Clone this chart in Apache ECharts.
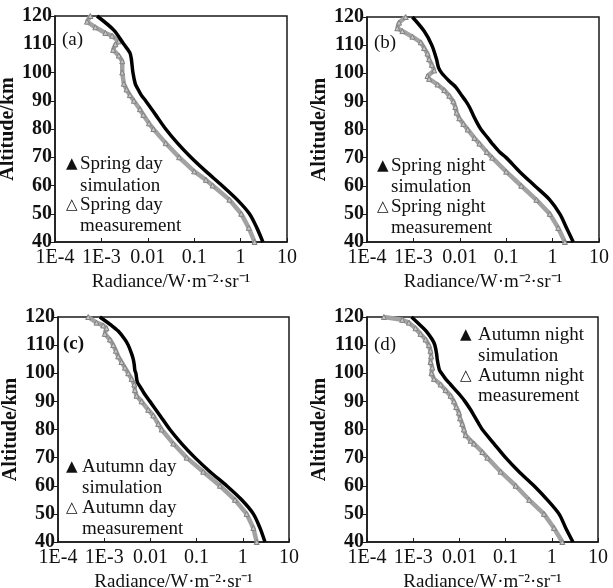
<!DOCTYPE html>
<html>
<head>
<meta charset="utf-8">
<script src="https://cdn.jsdelivr.net/npm/echarts@6/dist/echarts.min.js"></script>
<style>html,body{margin:0;padding:0;background:#fff}#c{width:613px;height:588px}</style>
</head>
<body>
<div id="c"></div>
<script>
// ---- tick labels ----
const xTickLabels = ['1E-4', '1E-3', '0.01', '0.1', '1', '10'];
const panelLetters = ['(a)', '(b)', '(c)', '(d)'];
const simNames = ['Spring day simulation', 'Spring night simulation', 'Autumn day simulation', 'Autumn night simulation'];
const measNames = ['Spring day measurement', 'Spring night measurement', 'Autumn day measurement', 'Autumn night measurement'];
const legendHead = ['Spring day', 'Spring night', 'Autumn day', 'Autumn night'];

// ---- (a) spring day ----
const altSimA = [120,115,110,107,105,100,96,95,92,90,85,80,75,70,65,60,55,50,45,40];
const radSimA = [8.05e-4,1.85e-3,3.05e-3,4.11e-3,4.40e-3,4.78e-3,5.36e-3,5.73e-3,7.23e-3,8.97e-3,0.0148,0.0243,0.0436,0.0847,0.179,0.397,0.840,1.55,2.24,3.02];
const altMeasA = [120,118,116,114,113,111,110,108,106,104,100,96,94,92,90,87,85,82,80,75,70,65,62,60,55,50,45,40];
const radMeasA = [5.78e-4,4.90e-4,7.41e-4,1.22e-3,1.70e-3,2.37e-3,2.01e-3,1.79e-3,2.37e-3,2.81e-3,2.81e-3,3.05e-3,3.48e-3,4.11e-3,5.01e-3,6.76e-3,8.0e-3,0.0106,0.0132,0.0243,0.0473,0.100,0.179,0.249,0.573,1.03,1.50,2.0];

// ---- (b) spring night ----
const altSimB = [120,115,110,105,102,100,97,95,92,90,88,86,85,82,80,77,75,72,70,65,60,55,50,45,40];
const radSimB = [9.5e-4,1.70e-3,2.49e-3,3.15e-3,3.48e-3,4.11e-3,6.12e-3,8.26e-3,0.0111,0.0136,0.0161,0.0184,0.0196,0.0243,0.0287,0.0401,0.0498,0.0718,0.100,0.195,0.411,0.869,1.43,2.0,2.78];
const altMeasB = [120,118,116,115,113,111,109,107,105,103,101,99,98,96,94,92,90,88,86,84,82,80,77,75,72,70,65,60,55,50,45,40];
const radMeasB = [6.82e-4,4.90e-4,4.50e-4,5.78e-4,9.5e-4,1.44e-3,1.70e-3,2.01e-3,2.18e-3,2.49e-3,2.81e-3,2.01e-3,2.18e-3,3.31e-3,4.61e-3,5.93e-3,7.23e-3,8.0e-3,8.53e-3,9.75e-3,0.0119,0.0148,0.0206,0.0264,0.0381,0.0498,0.100,0.211,0.447,0.869,1.32,1.84];

// ---- (c) autumn day ----
const altSimC = [120,117,115,112,110,107,105,103,101,100,97,95,93,90,85,80,75,70,65,60,55,50,45,40];
const radSimC = [8.05e-4,1.44e-3,2.01e-3,2.81e-3,3.31e-3,3.91e-3,4.25e-3,4.47e-3,4.61e-3,4.85e-3,5.19e-3,6.12e-3,7.23e-3,9.75e-3,0.0161,0.0264,0.0473,0.0920,0.195,0.447,0.944,1.69,2.35,3.02];
const altMeasC = [120,118,117,116,114,112,110,108,106,104,102,100,98,96,94,92,90,87,85,82,80,75,70,65,60,55,50,45,40];
const radMeasC = [4.50e-4,6.82e-4,9.5e-4,1.12e-3,1.03e-3,1.33e-3,1.57e-3,1.79e-3,2.01e-3,2.37e-3,2.81e-3,3.31e-3,3.91e-3,4.47e-3,4.61e-3,5.01e-3,6.44e-3,8.97e-3,0.0115,0.0148,0.0175,0.0313,0.0607,0.139,0.320,0.676,1.21,1.69,2.0];

// ---- (d) autumn night ----
const altSimD = [120,117,115,112,110,107,105,103,101,100,98,96,94,92,90,87,85,82,80,75,70,65,60,55,50,45,40];
const radSimD = [9.2e-4,1.44e-3,1.91e-3,2.58e-3,2.94e-3,3.20e-3,3.31e-3,3.48e-3,3.72e-3,4.11e-3,5.01e-3,6.44e-3,8.26e-3,0.0106,0.0132,0.0175,0.0206,0.0264,0.0313,0.0558,0.100,0.195,0.411,0.80,1.43,2.0,2.87];
const altMeasD = [120,119,118,116,114,112,110,108,106,104,102,100,98,96,94,92,90,88,86,84,82,80,78,76,75,72,70,65,60,55,50,45,40];
const radMeasD = [2.32e-4,5.78e-4,8.05e-4,1.12e-3,1.44e-3,1.85e-3,2.18e-3,2.37e-3,2.45e-3,2.37e-3,2.58e-3,2.49e-3,2.81e-3,3.91e-3,5.01e-3,6.44e-3,7.60e-3,8.53e-3,9.75e-3,0.0103,0.0115,0.0125,0.0136,0.0175,0.0206,0.0313,0.0401,0.0780,0.165,0.323,0.676,1.11,1.69];

const sims = [[radSimA, altSimA], [radSimB, altSimB], [radSimC, altSimC], [radSimD, altSimD]];
const meas = [[radMeasA, altMeasA], [radMeasB, altMeasB], [radMeasC, altMeasC], [radMeasD, altMeasD]];

// ---- layout (not data) ----
const grids = [
  {left: 55, top: 16, width: 232, height: 226},
  {left: 367, top: 17, width: 232, height: 225},
  {left: 58, top: 317, width: 231, height: 225},
  {left: 367, top: 317, width: 231, height: 225}
];
const letterPos = [[62, 40, 'normal'], [374, 43, 'normal'], [63, 344, 'bold'], [374, 345, 'normal']];
const legendPos = [
  {tx: 66, x: 80, ys: [164, 186, 205, 226]},
  {tx: 377, x: 391, ys: [166, 187, 207, 228]},
  {tx: 66, x: 82, ys: [467, 488, 508, 529]},
  {tx: 460, x: 478, ys: [335, 356, 376, 396]}
];

const FONT = '"Liberation Serif", "Times New Roman", serif';
const pair = (xs, ys) => xs.map((v, i) => [v, ys[i]]);

const option = {
  animation: false,
  backgroundColor: '#fff',
  grid: [], xAxis: [], yAxis: [], series: [], graphic: []
};

grids.forEach((g, i) => {
  option.grid.push(Object.assign({show: true, borderColor: '#1a1a1a', borderWidth: 1.5, backgroundColor: 'transparent', containLabel: false, outerBoundsMode: 'none'}, g));
  option.xAxis.push({
    gridIndex: i, type: 'log', logBase: 10, min: 1e-4, max: 10,
    name: 'Radiance/W·m⁻²·sr⁻¹', nameLocation: 'middle', nameGap: 31,
    nameTextStyle: {fontFamily: FONT, fontSize: 19, color: '#111'},
    axisLine: {show: true, lineStyle: {color: '#1a1a1a', width: 1.5}},
    axisTick: {show: true, inside: true, length: 4, lineStyle: {color: '#1a1a1a'}},
    minorTick: {show: false},
    splitLine: {show: false},
    axisLabel: {
      fontFamily: FONT, fontSize: 20, color: '#111', margin: 6,
      formatter: v => xTickLabels[Math.round(Math.log10(v)) + 4]
    }
  });
  option.yAxis.push({
    gridIndex: i, type: 'value', min: 40, max: 120, interval: 10,
    name: 'Altitude/km', nameLocation: 'middle', nameGap: 36,
    nameTextStyle: {fontFamily: FONT, fontSize: 20, fontWeight: 'bold', color: '#111'},
    axisLine: {show: true, lineStyle: {color: '#1a1a1a', width: 1.5}},
    axisTick: {show: true, inside: false, length: 4, lineStyle: {color: '#1a1a1a'}},
    splitLine: {show: false},
    axisLabel: {fontFamily: FONT, fontSize: 20, fontWeight: 'bold', color: '#111', margin: 3}
  });
  option.series.push({
    name: measNames[i], type: 'line', xAxisIndex: i, yAxisIndex: i,
    data: pair(meas[i][0], meas[i][1]),
    lineStyle: {color: '#a2a2a2', width: 4.5},
    symbol: 'triangle', symbolSize: 5, showSymbol: true,
    itemStyle: {color: '#c4c4c4', borderColor: '#808080', borderWidth: 1},
    z: 2
  });
  option.series.push({
    name: simNames[i], type: 'line', xAxisIndex: i, yAxisIndex: i,
    data: pair(sims[i][0], sims[i][1]),
    lineStyle: {color: '#000', width: 3.5},
    symbol: 'none', smooth: 0.3,
    z: 3
  });
  const lp = letterPos[i];
  option.graphic.push({
    type: 'text', x: lp[0], y: lp[1], z: 10,
    style: {text: panelLetters[i], font: lp[2] + ' 19px ' + FONT, fill: '#111', textVerticalAlign: 'middle'}
  });
  const L = legendPos[i];
  const lines = [legendHead[i], 'simulation', legendHead[i], 'measurement'];
  lines.forEach((t, k) => {
    option.graphic.push({
      type: 'text', x: L.x, y: L.ys[k], z: 10,
      style: {text: t, font: '19px ' + FONT, fill: '#111', textVerticalAlign: 'middle'}
    });
  });
  option.graphic.push({
    type: 'text', x: L.tx, y: L.ys[0], z: 10,
    style: {text: '▲', font: '15px "DejaVu Sans"', fill: '#111', textVerticalAlign: 'middle'}
  });
  option.graphic.push({
    type: 'text', x: L.tx, y: L.ys[2], z: 10,
    style: {text: '△', font: '15px "DejaVu Sans"', fill: '#111', textVerticalAlign: 'middle'}
  });
});

const chart = echarts.init(document.getElementById('c'), null, {renderer: 'canvas'});
chart.setOption(option);
</script>
</body>
</html>
